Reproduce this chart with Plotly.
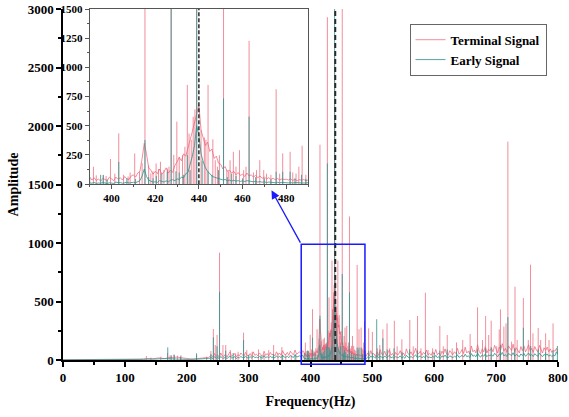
import numpy as np
import plotly.graph_objects as go

# ---------------- spectrum data ----------------
# Broadband floor of each spectrum, stored per frequency segment:
# (first frequency in Hz, sample spacing in Hz, amplitudes)
terminal_floor_a = [
    2, 2, 2, 2, 2, 2, 2, 2, 2, 2, 3, 3, 3, 3, 3, 3, 3, 3, 4, 4, 4, 4, 5, 5, 6, 8,
    10, 14, 12, 10, 14, 18, 15, 12, 20, 22, 18, 25, 20, 15, 12, 10, 8, 12, 15, 18, 20, 22,
]
terminal_floor_b = [
    40, 25, 55, 30, 45, 20, 60, 35, 30, 50, 25, 45, 70, 30, 40, 55, 25, 45, 35, 60,
    45, 30, 65, 40, 35, 55, 30, 70, 40, 50, 35, 60, 45, 30, 75, 40, 55, 35, 65, 45,
    50, 35, 70, 45, 60, 40, 80, 50, 45, 65, 40, 75, 55, 45, 85, 50, 60, 70, 55, 80,
]
terminal_floor_c = [
    60, 35, 55, 30, 45, 25, 50, 40, 30, 60,
    45, 30, 60, 40, 55, 35, 65, 45, 40, 70,
    80, 60, 95, 110, 220, 350, 260, 140, 120, 85,
    110, 90, 130, 85, 105, 140, 95, 120, 100, 160,
    190, 230, 200, 260, 240, 320, 380, 450, 520, 600,
    680, 460, 400, 330, 360, 280, 300, 220, 240, 180,
    170, 130, 150, 110, 120, 95, 110, 80, 100, 75,
    85, 65, 95, 70, 80, 60, 75, 55, 70, 50,
    60, 45, 55, 40, 50, 38, 48, 35, 45, 40,
    42, 35, 45, 32, 40, 30, 38, 34, 40, 30,
    35,
]
terminal_floor_d = [
    60, 35, 80, 45, 55, 30, 70, 40, 90, 50, 45, 75, 35, 60, 85, 40, 55, 30, 65, 45,
    50, 80, 40, 60, 35, 95, 55, 45, 70, 40, 60, 100, 45, 55, 75, 40, 65, 50, 85, 45,
    55, 40, 70, 50, 90, 45, 60, 35, 75, 55, 95, 50, 40, 80, 60, 45, 70, 55, 100, 50,
    65, 90, 55, 110, 60, 75, 50, 120, 70, 85, 60, 130, 75, 55, 95, 70, 115, 60, 90, 80,
    100, 70, 125, 85, 60, 110, 90, 140, 75, 100, 65, 120, 95, 80, 135, 70, 105, 85, 60, 115,
    80, 120, 70, 95, 130, 75, 100, 65, 115, 85, 70, 125, 90, 60, 105, 80, 110, 70, 95, 65,
    85, 75, 100, 60,
]

early_floor_a = [
    1, 1, 1, 1, 1, 1, 1, 1, 1, 1, 1, 1, 1, 1, 1, 1, 1, 1, 2, 2, 2, 2, 2, 2, 3, 4,
    5, 8, 6, 5, 8, 10, 12, 10, 12, 10, 8, 10, 8, 6, 5, 5, 5, 6, 8, 10, 12, 12,
]
early_floor_b = [
    20, 12, 28, 15, 22, 10, 30, 18, 15, 25, 12, 22, 35, 15, 20, 28, 12, 22, 18, 30,
    22, 15, 32, 20, 18, 28, 15, 35, 20, 25, 18, 30, 22, 15, 38, 20, 28, 18, 32, 22,
    25, 18, 35, 22, 30, 20, 40, 25, 22, 32, 20, 38, 28, 22, 42, 25, 30, 35, 28, 40,
]
early_floor_c = [
    12, 8, 15, 6, 10, 8, 14, 8, 6, 12,
    10, 6, 18, 12, 14, 8, 12, 16, 10, 14,
    16, 12, 22, 30, 70, 130, 65, 35, 25, 18,
    20, 15, 30, 22, 18, 28, 20, 32, 38, 30,
    45, 40, 60, 55, 90, 100, 160, 240, 330, 500,
    420, 260, 190, 140, 110, 85, 70, 60, 55, 45,
    42, 36, 40, 30, 34, 28, 32, 26, 30, 24,
    28, 22, 30, 26, 24, 20, 24, 18, 22, 16,
    20, 14, 18, 14, 16, 12, 16, 12, 15, 12,
    14, 11, 13, 10, 14, 10, 12, 10, 13, 10,
    12,
]
early_floor_d = [
    25, 15, 35, 20, 30, 15, 40, 20, 30, 25, 18, 35, 20, 28, 40, 18, 25, 15, 30, 22,
    22, 35, 18, 28, 15, 40, 25, 20, 30, 18, 28, 45, 20, 25, 35, 18, 30, 22, 38, 20,
    25, 18, 32, 22, 40, 20, 28, 15, 35, 25, 42, 22, 18, 36, 28, 20, 32, 25, 45, 22,
    30, 40, 25, 50, 28, 35, 22, 55, 32, 40, 28, 60, 35, 25, 45, 32, 52, 28, 42, 38,
    45, 32, 58, 40, 28, 50, 42, 65, 35, 46, 30, 55, 44, 38, 62, 32, 48, 40, 28, 52,
    38, 56, 32, 44, 60, 35, 46, 30, 54, 40, 32, 58, 42, 28, 48, 38, 52, 32, 44, 30,
    40, 36, 70, 45,
]

# segment layout: start frequency and spacing (Hz)
floor_segments = [(0, 5), (240, 2.5), (390, 1), (492.5, 2.5)]

# discrete spectral lines: (frequency in Hz, amplitude)
terminal_peaks = [
    (134.7, 34), (142, 20), (158, 28), (169, 60), (173, 40), (179, 46), (185, 37),
    (190.7, 40), (216, 45), (232, 28), (239, 77), (243, 265), (246, 128), (249, 214),
    (253, 917), (258.5, 128), (263, 128), (270.5, 85), (279, 57), (283, 70),
    (291.8, 234), (297, 85), (305.7, 70), (316, 90), (325, 50), (332.5, 85),
    (340.4, 128), (347.4, 57), (353.7, 111), (360, 50), (369, 40), (376.5, 50), (386, 70),
    (391.7, 149), (393, 75), (396.2, 80), (397.5, 70), (399.5, 215), (401.5, 90),
    (403.3, 435), (405.5, 80), (407.6, 65), (408.5, 100), (410.6, 263), (412.8, 106),
    (414, 180), (415.3, 1840), (417, 160), (418, 92), (419, 110), (420.4, 177),
    (421.5, 130), (422.4, 191), (424, 120), (425.6, 134), (426.3, 150), (427.3, 2930),
    (428.5, 250), (429.9, 535), (431, 234), (432.5, 248), (433.6, 320), (434.7, 850),
    (435.5, 434), (436.5, 380), (437.4, 577), (438.2, 640), (439, 2600), (441, 464),
    (442.5, 400), (443.2, 380), (444.2, 850), (446.4, 384), (447.5, 205), (448.5, 150),
    (449.4, 248), (451.3, 3050), (452.8, 120), (453.5, 110), (454.3, 205), (455.8, 277),
    (457, 150), (458.6, 291), (460.5, 120), (461.6, 149), (463, 1227), (465, 100),
    (466.4, 120), (467.9, 205), (469.7, 120), (471, 90), (473, 80), (475.4, 813),
    (477, 90), (478.4, 263), (481.8, 277), (483, 100), (484.5, 90), (485.8, 149),
    (487.3, 329), (489, 80),
    (494, 271), (500, 240), (508, 100), (512, 128), (517, 262), (523.7, 313), (528, 100),
    (535.5, 336), (540, 117), (547.7, 177), (560.5, 342), (566, 117), (573, 376),
    (578.5, 100), (585.7, 575), (590, 85), (597.4, 100), (609, 291), (614.6, 117),
    (621, 214), (629, 100), (636, 150), (646, 171), (658, 222), (670, 450), (678, 171),
    (683, 376), (688, 214), (692, 336), (701, 117), (705, 262), (707, 433), (712.5, 285),
    (716, 313), (719, 1866), (725, 157), (730.5, 627), (734, 171), (744, 530),
    (752, 171), (755.6, 815), (759.5, 228), (768, 273), (772, 171), (780, 228),
    (785.5, 171), (792, 313),
]
early_peaks = [
    (169.3, 108), (175, 40), (180, 45), (190, 30), (215.8, 57), (239, 50), (243, 194),
    (249, 117), (253, 584), (263, 80), (275, 60), (291.8, 171), (300, 45), (320, 40),
    (340, 50), (355, 45), (375, 50), (390, 60),
    (395, 80), (396.2, 77), (398, 40), (403.3, 191), (407, 50), (411, 45), (415.3, 378),
    (417, 60), (419, 50), (420.5, 70), (423, 90), (425.5, 110), (427.3, 1680),
    (429.5, 110), (431, 100), (433, 80), (434.7, 248), (436, 120), (439, 3050),
    (441.5, 200), (444.2, 110), (446, 80), (449, 120), (451.3, 735), (453, 60), (455, 90),
    (457, 70), (460, 50), (463, 578), (466, 60), (470, 50), (473, 40), (475.4, 106),
    (478.4, 106), (481.8, 106), (484, 50), (487, 80), (489, 45),
    (494, 80), (500, 60), (507, 348), (512, 70), (517, 186), (524, 90), (535, 100),
    (548, 70), (560, 90), (573, 80), (586, 70), (600, 60), (609, 80), (621, 90),
    (636, 70), (658, 80), (670, 90), (683, 100), (692, 110), (707, 130), (719, 367),
    (730, 100), (744, 276), (756, 120), (768, 90), (780, 70), (792, 80), (799, 120),
]

marked_freq = 440                 # reference frequency (dashed line)
zoom_window = (385, 488)          # frequency span highlighted by the box

TERMINAL = "rgba(236,98,118,0.72)"
EARLY = "rgba(48,148,142,0.82)"
FONT = "Liberation Serif"


def floor_series(*segments):
    xs, ys = [], []
    for (start, step), values in zip(floor_segments, segments):
        xs.append(start + step * np.arange(len(values)))
        ys.append(np.asarray(values, dtype=float))
    return np.concatenate(xs), np.concatenate(ys)


def stems(peaks):
    xs, ys = [], []
    for f, a in peaks:
        xs += [f, f, None]
        ys += [0, a, None]
    return xs, ys


series = [
    ("Terminal Signal", TERMINAL,
     floor_series(terminal_floor_a, terminal_floor_b, terminal_floor_c, terminal_floor_d),
     stems(terminal_peaks)),
    ("Early Signal", EARLY,
     floor_series(early_floor_a, early_floor_b, early_floor_c, early_floor_d),
     stems(early_peaks)),
]

fig = go.Figure()
for xa, ya, show in (("x", "y", True), ("x2", "y2", False)):
    for name, color, (fx, fy), (sx, sy) in series:
        fig.add_trace(go.Scatter(
            x=fx, y=fy, mode="lines", name=name, showlegend=show,
            line=dict(color=color, width=1), xaxis=xa, yaxis=ya, hoverinfo="skip"))
        fig.add_trace(go.Scatter(
            x=sx, y=sy, mode="lines", name=name, showlegend=False,
            line=dict(color=color, width=1), xaxis=xa, yaxis=ya, hoverinfo="skip"))

tick_font = dict(family=FONT, size=13, color="black", weight="bold")
small_font = dict(family=FONT, size=11, color="black", weight="bold")

fig.update_layout(
    width=569, height=417,
    margin=dict(l=63, r=11, t=9, b=57),
    paper_bgcolor="white", plot_bgcolor="white",
    font=dict(family=FONT, color="black"),
    xaxis=dict(
        range=[0, 800], tick0=0, dtick=100, showgrid=False, zeroline=False,
        showline=True, linecolor="black", linewidth=1.5, automargin=False,
        ticks="outside", ticklen=5, tickwidth=1.5, tickcolor="black",
        minor=dict(dtick=50, tick0=0, ticks="outside", ticklen=3, tickcolor="black"),
        tickfont=tick_font, ticklabeloverflow="allow",
        title=dict(text="Frequency(Hz)", standoff=12,
                   font=dict(family=FONT, size=14, color="black", weight="bold")),
    ),
    yaxis=dict(
        range=[0, 3000], tick0=0, dtick=500, showgrid=False, zeroline=False,
        showline=True, linecolor="black", linewidth=1.5, automargin=False,
        ticks="outside", ticklen=5, tickwidth=1.5, tickcolor="black",
        minor=dict(dtick=250, tick0=0, ticks="outside", ticklen=3, tickcolor="black"),
        tickfont=tick_font,
        title=dict(text="Amplitude", standoff=6,
                   font=dict(family=FONT, size=14, color="black", weight="bold")),
    ),
    xaxis2=dict(
        domain=[0.054, 0.495], anchor="y2", range=[390, 490], tick0=400, dtick=20,
        showgrid=False, zeroline=False, showline=True, mirror=True,
        linecolor="#555", linewidth=1, ticks="outside", ticklen=4, tickcolor="#555",
        minor=dict(dtick=10, tick0=400, ticks="outside", ticklen=2, tickcolor="#555"),
        tickfont=small_font, automargin=False,
    ),
    yaxis2=dict(
        domain=[0.501, 1.0], anchor="x2", range=[0, 1500], tick0=0, dtick=250,
        showgrid=False, zeroline=False, showline=True, mirror=True,
        linecolor="#555", linewidth=1, ticks="outside", ticklen=4, tickcolor="#555",
        minor=dict(dtick=125, tick0=0, ticks="outside", ticklen=2, tickcolor="#555"),
        tickfont=small_font, automargin=False,
    ),
    legend=dict(
        x=0.70, y=0.958, xanchor="left", yanchor="top",
        bgcolor="white", bordercolor="#666", borderwidth=1,
        font=dict(family=FONT, size=13, color="black", weight="bold"),
        tracegroupgap=0, itemwidth=30,
    ),
    showlegend=True,
)

# dashed marker at the reference frequency, on both axes
fig.add_shape(type="line", xref="x", yref="y", x0=marked_freq, x1=marked_freq,
              y0=0, y1=3000, line=dict(color="#2a2a2a", width=2, dash="5px,3px"))
fig.add_shape(type="line", xref="x2", yref="y2", x0=marked_freq, x1=marked_freq,
              y0=0, y1=1500, line=dict(color="#2a2a2a", width=1.5, dash="4px,2px"))

# box around the zoomed span and the arrow to the inset
fig.add_shape(type="rect", xref="x", yref="paper", x0=zoom_window[0], x1=zoom_window[1],
              y0=-0.012, y1=0.33, line=dict(color="#1a1aff", width=1.5))
fig.add_annotation(x=337, y=1450, xref="x", yref="y",
                   ax=zoom_window[0], ay=990, axref="x", ayref="y",
                   text="", showarrow=True, arrowhead=2, arrowsize=1.3,
                   arrowwidth=1.3, arrowcolor="#1a1aff")

fig.write_html("out.html")
